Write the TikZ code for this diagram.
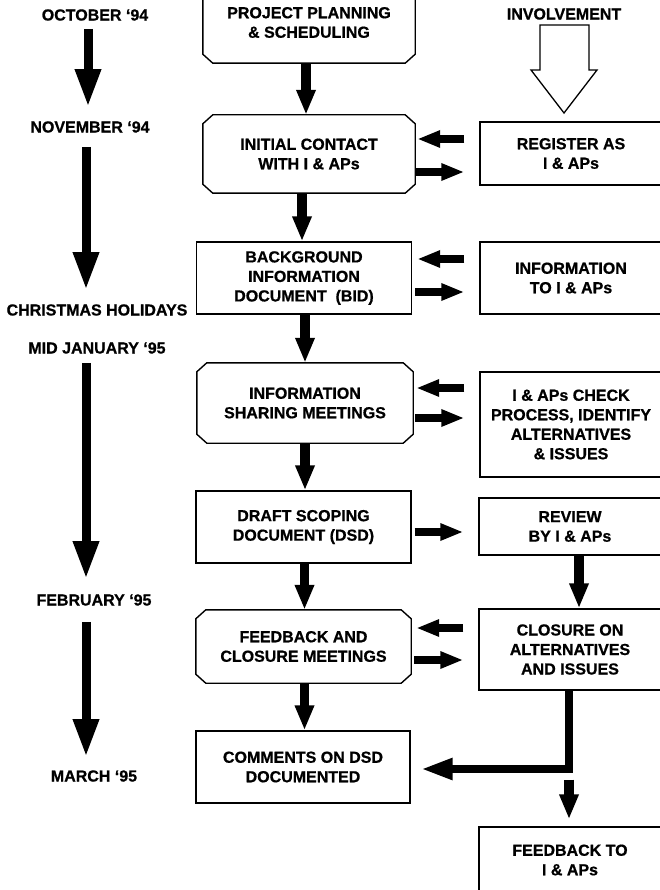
\documentclass[tikz,border=0pt]{standalone}
\usepackage{fontspec}
\setmainfont{Liberation Sans}[BoldFeatures={FakeBold=0.8}]
\usetikzlibrary{arrows.meta,calc}
\tikzset{
  txt/.style={font=\fontsize{16}{19.5}\selectfont\bfseries, align=center, inner sep=0pt},
  rbox/.style={txt, draw, line width=1.4pt, fill=white, rectangle},
  cbox/.style={txt, rectangle},
  cline/.style={line width=1.4pt, line join=miter},
  varrow/.style={line width=9.5pt, -{Triangle[width=18pt,length=25pt]}},
  harrow/.style={line width=8pt, -{Triangle[width=16pt,length=23pt]}},
  tarrow/.style={line width=9pt, -{Triangle[width=24pt,length=38pt]}},
  earrow/.style={line width=8pt, line join=miter, -{Triangle[width=20pt,length=32pt]}},
  openarrow/.style={draw, line width=1.3pt, fill=white, line join=miter}
}
\newcommand\chamfbox[1]{%
  \draw[cline] ($(#1.north west)+(10,0)$) -- ($(#1.north east)+(-10,0)$)
    -- ($(#1.north east)+(0,9)$) -- ($(#1.south east)+(0,-9)$)
    -- ($(#1.south east)+(-10,0)$) -- ($(#1.south west)+(10,0)$)
    -- ($(#1.south west)+(0,-9)$) -- ($(#1.north west)+(0,9)$) -- cycle;}
\begin{document}
\begin{tikzpicture}[x=1pt,y=-1pt]
\useasboundingbox (0,0) rectangle (660,890);
\clip (0,0) rectangle (660,890);
\fill[white] (0,0) rectangle (660,890);

% time line labels
\node[txt] (oct)  at (95,15)  {OCTOBER ‘94};
\node[txt] (nov)  at (90,127) {NOVEMBER ‘94};
\node[txt] (xmas) at (97,310) {CHRISTMAS HOLIDAYS};
\node[txt] (jan)  at (97,348) {MID JANUARY ‘95};
\node[txt] (feb)  at (94,600) {FEBRUARY ‘95};
\node[txt] (mar)  at (94,776) {MARCH ‘95};

\draw[tarrow] ($(oct.south)+(-7,8)$) -- ($(nov.north)+(-2,-14)$);
\draw[tarrow] ($(nov.south)+(-4,14)$) -- ($(xmas.north)+(-11,-14)$);
\draw[tarrow] ($(jan.south)+(-11,9)$) -- ($(feb.north)+(-8,-15)$);
\draw[tarrow] ($(feb.south)+(-8,16)$) -- ($(mar.north)+(-8,-13)$);

% centre column
\node[cbox, minimum width=212pt, minimum height=81pt] (b1) at (309,22.5) {PROJECT PLANNING\\\& SCHEDULING};
\draw[cline] ($(b1.north west)+(0,-10)$) -- ($(b1.south west)+(0,-9)$)
   -- ($(b1.south west)+(10,0)$) -- ($(b1.south east)+(-10,0)$)
   -- ($(b1.south east)+(0,-9)$) -- ($(b1.north east)+(0,-10)$);
\node[cbox, minimum width=212pt, minimum height=78pt] (b2) at (309,154) {INITIAL CONTACT\\WITH I \& APs};
\chamfbox{b2}
\node[rbox, minimum width=215pt, minimum height=72pt] (b3) at (304,278) {BACKGROUND\\INFORMATION\\DOCUMENT \ (BID)};
\node[cbox, minimum width=216pt, minimum height=80pt] (b4) at (305,403) {INFORMATION\\SHARING MEETINGS};
\chamfbox{b4}
\node[rbox, minimum width=215pt, minimum height=72pt] (b5) at (303.5,527) {DRAFT SCOPING\\DOCUMENT (DSD)};
\node[cbox, minimum width=215pt, minimum height=73pt] (b6) at (303.5,646.5) {FEEDBACK AND\\CLOSURE MEETINGS};
\chamfbox{b6}
\node[rbox, minimum width=214pt, minimum height=72pt] (b7) at (303,767) {COMMENTS ON DSD\\DOCUMENTED};

\draw[varrow] ($(b1.south)+(-3,0)$) -- ($(b1.south|-b2.north)+(-3,0)$);
\draw[varrow] ($(b2.south)+(-7,0)$) -- ($(b2.south|-b3.north)+(-7,0)$);
\draw[varrow] ($(b3.south)+(1,0)$) -- ($(b3.south|-b4.north)+(1,0)$);
\draw[varrow] ($(b4.south)+(0,0)$) -- ($(b4.south|-b5.north)+(0,0)$);
\draw[varrow] ($(b5.south)+(1,0)$) -- ($(b5.south|-b6.north)+(1,0)$);
\draw[varrow] ($(b6.south)+(1,0)$) -- ($(b6.south|-b7.north)+(1,0)$);

% right column
\node[txt] (inv) at (564,14) {INVOLVEMENT};
\node[rbox, minimum width=182pt, minimum height=63pt]  (r1) at (571,153.5) {REGISTER AS\\I \& APs};
\node[rbox, minimum width=182pt, minimum height=72pt]  (r2) at (571,278)   {INFORMATION\\TO I \& APs};
\node[rbox, minimum width=182pt, minimum height=105pt] (r3) at (571,424.5) {I \& APs CHECK\\PROCESS, IDENTIFY\\ALTERNATIVES\\\& ISSUES};
\node[rbox, minimum width=182pt, minimum height=57pt]  (r4) at (570,526.5) {REVIEW\\BY I \& APs};
\node[rbox, minimum width=182pt, minimum height=81pt]  (r5) at (570,649.5) {CLOSURE ON\\ALTERNATIVES\\AND ISSUES};
\node[rbox, minimum width=182pt, minimum height=66pt]  (r6) at (570,860)   {FEEDBACK TO\\I \& APs};

% open block arrow
\draw[openarrow] (540,25) -- (540,70) -- (531,70) -- (564,113) -- (597,70) -- (589,70) -- (589,25) -- cycle;

% horizontal arrows
\draw[harrow] ($(r1.west|-0,139)+(-15,0)$) -- ($(b2.east|-0,139)+(2,0)$);
\draw[harrow] ($(b2.east|-0,172)+(0,0)$) -- ($(r1.west|-0,172)+(-15,0)$);
\draw[harrow] ($(r2.west|-0,259)+(-15,0)$) -- ($(b3.east|-0,259)+(5,0)$);
\draw[harrow] ($(b3.east|-0,292)+(3,0)$) -- ($(r2.west|-0,292)+(-15,0)$);
\draw[harrow] ($(r3.west|-0,388)+(-15,0)$) -- ($(b4.east|-0,388)+(3,0)$);
\draw[harrow] ($(b4.east|-0,418)+(2,0)$) -- ($(r3.west|-0,418)+(-15,0)$);
\draw[harrow] ($(b5.east|-0,532)+(3,0)$) -- ($(r4.west|-0,532)+(-15,0)$);
\draw[harrow] ($(r5.west|-0,628)+(-15,0)$) -- ($(b6.east|-0,628)+(5,0)$);
\draw[harrow] ($(b6.east|-0,660)+(3,0)$) -- ($(r5.west|-0,660)+(-15,0)$);

% right column vertical connectors
\draw[varrow] ($(r4.south)+(9,0)$) -- ($(r5.north)+(9,0)$);
\draw[earrow] ($(r5.south)+(-1,0)$) |- ($(b7.east)+(10,2)$);
\draw[varrow] ($(r5.south)+(-1,89)$) -- ($(r6.north)+(-1,-7)$);
\end{tikzpicture}
\end{document}
